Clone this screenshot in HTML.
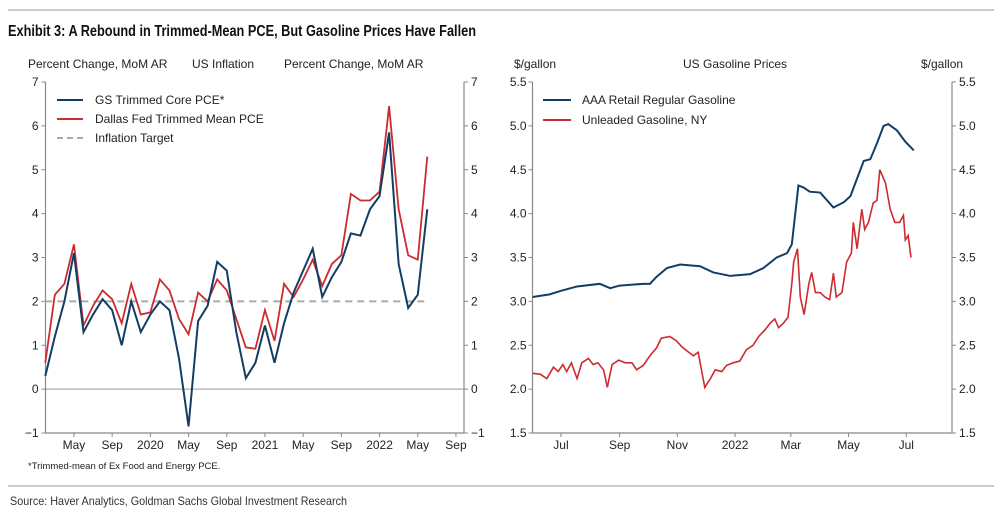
<!DOCTYPE html>
<html><head><meta charset="utf-8"><style>
body{margin:0;background:#fff;}
svg{display:block;font-family:"Liberation Sans",Arial,sans-serif;}
.t{font-size:12px;fill:#222;}
.n{font-family:"Liberation Sans Narrow","Liberation Sans",sans-serif;}
</style></head><body>
<svg id="c" width="994" height="515" viewBox="0 0 994 515">
<line x1="8" y1="10" x2="994" y2="10" stroke="#bbb" stroke-width="1.5"/>
<text x="8" y="36" class="n" font-size="16" font-weight="bold" fill="#111" textLength="468" lengthAdjust="spacingAndGlyphs">Exhibit 3: A Rebound in Trimmed-Mean PCE, But Gasoline Prices Have Fallen</text>
<text x="28" y="68" class="t">Percent Change, MoM AR</text>
<text x="192" y="68" class="t">US Inflation</text>
<text x="284" y="68" class="t">Percent Change, MoM AR</text>
<text x="514" y="68" class="t">$/gallon</text>
<text x="683" y="68" class="t">US Gasoline Prices</text>
<text x="921" y="68" class="t">$/gallon</text>
<g id="left"></g>
<g id="right"></g>
<text x="28" y="469" font-size="9.5" fill="#222">*Trimmed-mean of Ex Food and Energy PCE.</text>
<line x1="8" y1="486" x2="994" y2="486" stroke="#bbb" stroke-width="1.5"/>
<text x="10" y="505" class="n" font-size="12" fill="#333" textLength="337" lengthAdjust="spacingAndGlyphs">Source: Haver Analytics, Goldman Sachs Global Investment Research</text>
</svg>
<script>
// ---- Left chart data (monthly, starting Feb 2019) ----
const gsCore = [0.3,1.2,2.0,3.1,1.3,1.7,2.05,1.8,1.0,2.0,1.3,1.7,2.0,1.8,0.7,-0.85,1.55,1.9,2.9,2.7,1.3,0.25,0.6,1.45,0.6,1.5,2.2,2.7,3.2,2.1,2.55,2.9,3.55,3.5,4.1,4.4,5.85,2.85,1.85,2.15,4.1];
const dallas = [0.6,2.15,2.4,3.3,1.45,1.9,2.25,2.05,1.5,2.4,1.7,1.75,2.5,2.25,1.6,1.25,2.2,2.0,2.5,2.25,1.6,0.95,0.92,1.8,1.1,2.4,2.1,2.5,2.95,2.35,2.85,3.05,4.45,4.3,4.3,4.5,6.45,4.1,3.05,2.95,5.3];
const inflTarget = 2;
const leftYTicks = [-1,0,1,2,3,4,5,6,7];
const leftXTickLabels = ["May","Sep","2020","May","Sep","2021","May","Sep","2022","May","Sep"];
const leftXTickMonths = [3,7,11,15,19,23,27,31,35,39,43]; // months after Feb 2019

// ---- Right chart data (days after 1 Jun 2021) ----
const aaaDays = [0,18,30,47,71,82,92,117,124,131,142,156,177,191,209,230,244,258,269,274,281,286,293,304,318,329,336,350,357,364,371,376,385,394,403];
const aaaVals = [3.05,3.08,3.12,3.17,3.2,3.15,3.18,3.2,3.2,3.28,3.38,3.42,3.4,3.33,3.29,3.31,3.38,3.5,3.55,3.65,4.32,4.3,4.25,4.24,4.07,4.13,4.2,4.6,4.62,4.8,5.0,5.02,4.95,4.82,4.72];
const nyDays = [0,8,15,22,27,32,36,41,47,52,59,64,69,75,79,84,91,98,105,110,117,124,131,136,145,152,158,165,170,175,182,188,193,200,205,212,219,226,233,239,246,251,256,260,265,270,274,276,280,283,287,292,295,299,304,309,314,318,321,327,332,337,339,343,348,351,355,360,364,367,373,378,383,388,392,394,397,400];
const nyVals = [2.18,2.17,2.12,2.25,2.2,2.28,2.2,2.3,2.12,2.3,2.35,2.28,2.3,2.22,2.02,2.28,2.33,2.3,2.3,2.22,2.27,2.38,2.47,2.58,2.6,2.55,2.48,2.42,2.38,2.42,2.02,2.12,2.22,2.2,2.27,2.3,2.32,2.45,2.5,2.6,2.68,2.75,2.8,2.7,2.75,2.82,3.2,3.45,3.6,3.05,2.85,3.2,3.33,3.1,3.1,3.05,3.02,3.32,3.05,3.1,3.45,3.55,3.9,3.6,4.05,3.82,3.9,4.12,4.15,4.5,4.35,4.05,3.9,3.9,3.98,3.7,3.75,3.5];
const rightYTicks = [1.5,2.0,2.5,3.0,3.5,4.0,4.5,5.0,5.5];
const rightXTickLabels = ["Jul","Sep","Nov","2022","Mar","May","Jul"];
const rightXTickDays = [30,92,153,214,273,334,395];

const NS="http://www.w3.org/2000/svg";
function mk(parent,tag,attrs){const e=document.createElementNS(NS,tag);for(const k in attrs)e.setAttribute(k,attrs[k]);parent.appendChild(e);return e;}

// Left axes
const L=document.getElementById('left');
const lx0=45.5,lx1=464,ly0=433,ly1=82;
const lY=v=>ly0-(v+1)/8*(ly0-ly1);
const lX=m=>45.3+m*9.55;
let e;
e=mk(L,'line',{x1:lx0,y1:lY(0),x2:lx1,y2:lY(0),stroke:'#999','stroke-width':1});


e=mk(L,'path',{d:`M${lx0} ${ly1}V${ly0}H${lx1}V${ly1}`,fill:'none',stroke:'#888','stroke-width':1.2});


leftYTicks.forEach(v=>{
  const y=lY(v);
  mk(L,'line',{x1:lx0-4,y1:y,x2:lx0,y2:y,stroke:'#888'});
  mk(L,'line',{x1:lx1,y1:y,x2:lx1+4,y2:y,stroke:'#888'});
  e=mk(L,'text',{x:lx0-7,y:y+4,'text-anchor':'end',class:'t'});e.textContent=v<0?'\u2212'+(-v):v;
  
  
  e=mk(L,'text',{x:lx1+7,y:y+4,class:'t'});e.textContent=v<0?'\u2212'+(-v):v;
  
  
});
leftXTickMonths.forEach((m,i)=>{
  const x=lX(m);
  mk(L,'line',{x1:x,y1:ly0,x2:x,y2:ly0+4,stroke:'#888'});
  e=mk(L,'text',{x:x,y:ly0+16,'text-anchor':'middle',class:'t'});e.textContent=leftXTickLabels[i];
  
  
});
e=mk(L,'line',{x1:lX(0),y1:lY(inflTarget),x2:lX(gsCore.length-1),y2:lY(inflTarget),stroke:'#aaa','stroke-width':2,'stroke-dasharray':'7,5'});


e=mk(L,'polyline',{points:dallas.map((v,i)=>lX(i)+','+lY(v)).join(' '),fill:'none',stroke:'#cc2b30','stroke-width':1.8});


e=mk(L,'polyline',{points:gsCore.map((v,i)=>lX(i)+','+lY(v)).join(' '),fill:'none',stroke:'#143d66','stroke-width':2});


[['#143d66','GS Trimmed Core PCE*',0],['#cc2b30','Dallas Fed Trimmed Mean PCE',0],['#aaa','Inflation Target',1]].forEach((l,i)=>{
  const y=100+i*19;
  const g=mk(L,'g',{});
  
  
  mk(g,'line',{x1:57,y1:y,x2:83,y2:y,stroke:l[0],'stroke-width':2,'stroke-dasharray':l[2]?'6,4':'none'});
  const t=mk(g,'text',{x:95,y:y+4,class:'t'});t.textContent=l[1];
});

// Right axes
const R=document.getElementById('right');
const rx0=532.5,rx1=952,ry0=433,ry1=82;
const rY=v=>ry0-(v-1.5)/4*(ry0-ry1);
const rX=d=>532.6+d*0.946;
e=mk(R,'path',{d:`M${rx0} ${ry1}V${ry0}H${rx1}V${ry1}`,fill:'none',stroke:'#888','stroke-width':1.2});


rightYTicks.forEach(v=>{
  const y=rY(v);
  mk(R,'line',{x1:rx0-4,y1:y,x2:rx0,y2:y,stroke:'#888'});
  mk(R,'line',{x1:rx1,y1:y,x2:rx1+4,y2:y,stroke:'#888'});
  e=mk(R,'text',{x:rx0-6,y:y+4,'text-anchor':'end',class:'t'});e.textContent=v.toFixed(1);
  
  
  e=mk(R,'text',{x:rx1+7,y:y+4,class:'t'});e.textContent=v.toFixed(1);
  
  
});
rightXTickDays.forEach((d,i)=>{
  const x=rX(d);
  mk(R,'line',{x1:x,y1:ry0,x2:x,y2:ry0+4,stroke:'#888'});
  e=mk(R,'text',{x:x,y:ry0+16,'text-anchor':'middle',class:'t'});e.textContent=rightXTickLabels[i];
  
  
});
e=mk(R,'polyline',{points:nyVals.map((v,i)=>rX(nyDays[i])+','+rY(v)).join(' '),fill:'none',stroke:'#cc2b30','stroke-width':1.6});


e=mk(R,'polyline',{points:aaaVals.map((v,i)=>rX(aaaDays[i])+','+rY(v)).join(' '),fill:'none',stroke:'#143d66','stroke-width':2});


[['#143d66','AAA Retail Regular Gasoline'],['#cc2b30','Unleaded Gasoline, NY']].forEach((l,i)=>{
  const y=100+i*20;
  const g=mk(R,'g',{});
  
  
  mk(g,'line',{x1:543,y1:y,x2:571,y2:y,stroke:l[0],'stroke-width':2});
  const t=mk(g,'text',{x:582,y:y+4,class:'t'});t.textContent=l[1];
});
</script>
</body></html>
